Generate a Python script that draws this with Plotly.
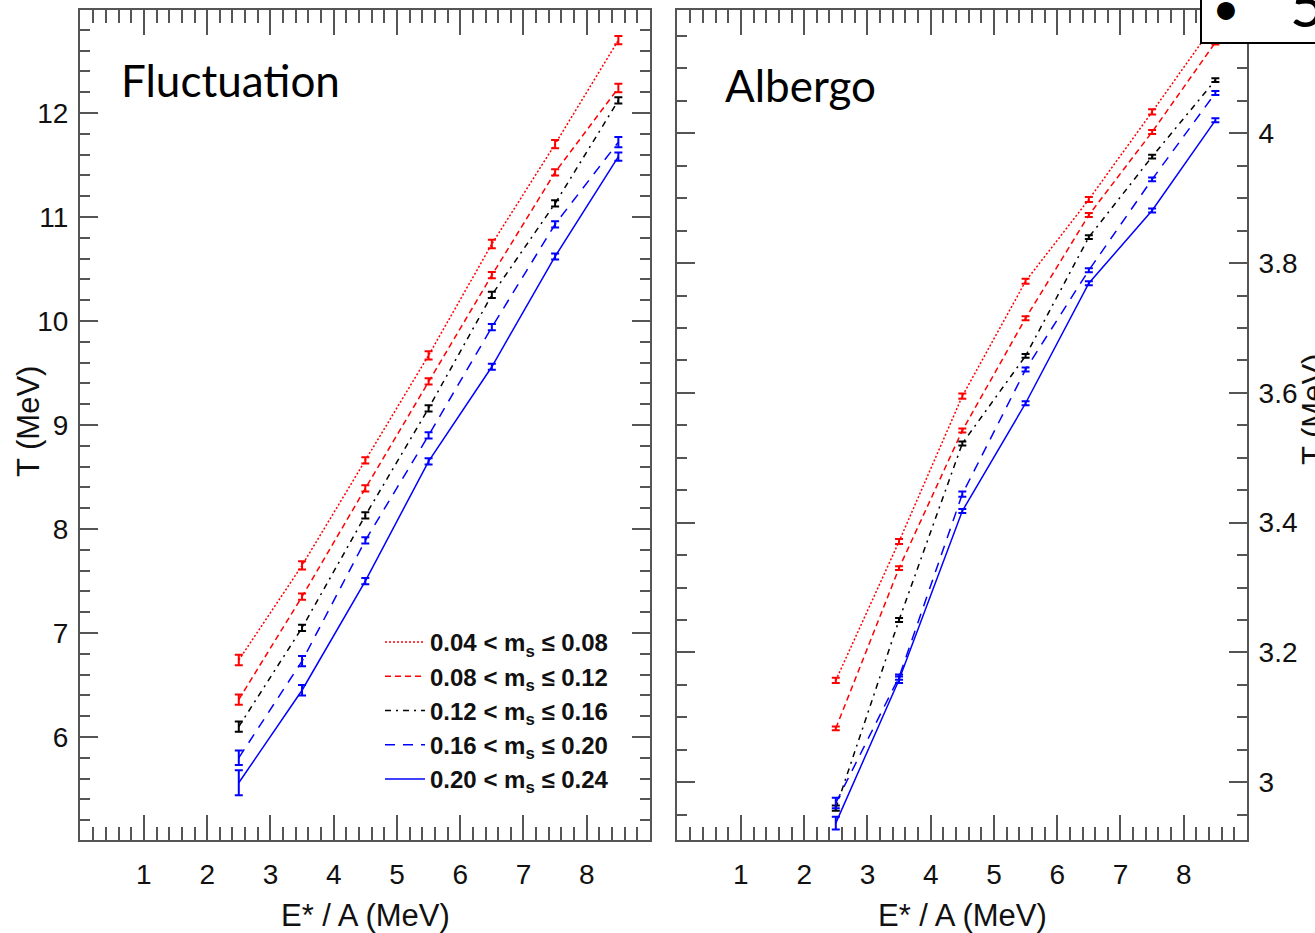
import plotly.graph_objects as go

W, H = 1315, 933

# ---------------- data ----------------
energy = [2.5, 3.5, 4.5, 5.5, 6.5, 7.5, 8.5]

series_names = [
    "<b>0.04 &lt; m<sub>s</sub> ≤ 0.08</b>",
    "<b>0.08 &lt; m<sub>s</sub> ≤ 0.12</b>",
    "<b>0.12 &lt; m<sub>s</sub> ≤ 0.16</b>",
    "<b>0.16 &lt; m<sub>s</sub> ≤ 0.20</b>",
    "<b>0.20 &lt; m<sub>s</sub> ≤ 0.24</b>",
]

# Fluctuation thermometer (left panel)
fluct_T = [
    [6.74, 7.65, 8.66, 9.67, 10.74, 11.70, 12.70],
    [6.36, 7.35, 8.39, 9.42, 10.44, 11.43, 12.24],
    [6.10, 7.05, 8.13, 9.16, 10.25, 11.13, 12.12],
    [5.80, 6.73, 7.89, 8.90, 9.94, 10.93, 11.72],
    [5.56, 6.45, 7.50, 8.65, 9.56, 10.62, 11.58],
]
fluct_err = [
    [0.05, 0.04, 0.03, 0.04, 0.04, 0.04, 0.04],
    [0.05, 0.03, 0.03, 0.03, 0.03, 0.03, 0.04],
    [0.05, 0.03, 0.03, 0.03, 0.03, 0.03, 0.03],
    [0.07, 0.05, 0.03, 0.03, 0.03, 0.03, 0.05],
    [0.12, 0.05, 0.03, 0.03, 0.03, 0.03, 0.04],
]

# Albergo thermometer (right panel)
alb_T = [
    [3.157, 3.371, 3.595, 3.772, 3.898, 4.033, 4.170],
    [3.083, 3.330, 3.542, 3.715, 3.874, 4.002, 4.140],
    [2.960, 3.250, 3.522, 3.657, 3.840, 3.964, 4.082],
    [2.968, 3.162, 3.444, 3.636, 3.789, 3.929, 4.062],
    [2.937, 3.158, 3.418, 3.584, 3.769, 3.881, 4.020],
]
alb_err = [
    [0.004, 0.004, 0.004, 0.004, 0.004, 0.004, 0.004],
    [0.003, 0.003, 0.003, 0.003, 0.003, 0.003, 0.003],
    [0.004, 0.003, 0.003, 0.003, 0.003, 0.003, 0.003],
    [0.008, 0.004, 0.004, 0.003, 0.003, 0.003, 0.003],
    [0.010, 0.005, 0.003, 0.003, 0.003, 0.003, 0.003],
]

colors = ["#ff0000", "#ff0000", "#000000", "#0000ff", "#0000ff"]
dashes = ["2px,2px", "6px,4px", "6px,5px,2px,5px", "10px,8px", "solid"]

x_ticks = [1, 2, 3, 4, 5, 6, 7, 8]
left_y_ticks = [6, 7, 8, 9, 10, 11, 12]
right_y_ticks = [3.0, 3.2, 3.4, 3.6, 3.8, 4.0]
right_y_labels = ["3", "3.2", "3.4", "3.6", "3.8", "4"]

# ---------------- figure ----------------
fig = go.Figure()

for i in range(5):
    fig.add_trace(go.Scatter(
        x=energy, y=fluct_T[i], mode="lines", name=series_names[i],
        line=dict(color=colors[i], width=1.5, dash=dashes[i]),
        error_y=dict(type="data", array=fluct_err[i], color=colors[i],
                     thickness=2, width=4),
        xaxis="x", yaxis="y", showlegend=True,
    ))
for i in range(5):
    fig.add_trace(go.Scatter(
        x=energy, y=alb_T[i], mode="lines", name=series_names[i],
        line=dict(color=colors[i], width=1.5, dash=dashes[i]),
        error_y=dict(type="data", array=alb_err[i], color=colors[i],
                     thickness=2, width=4),
        xaxis="x2", yaxis="y2", showlegend=False,
    ))

AX = "#555555"
tickfont = dict(family="Liberation Sans, Arial, sans-serif", size=28, color="#111111")

def xaxis_cfg(domain, anchor):
    return dict(
        domain=domain, anchor=anchor, range=[-0.01, 9.0],
        tickmode="array", tickvals=x_ticks, ticktext=[str(v) for v in x_ticks],
        ticks="inside", ticklen=25, tickwidth=2, tickcolor=AX,
        showline=True, linecolor=AX, linewidth=2, mirror="allticks",
        showgrid=False, zeroline=False, tickfont=tickfont,
        ticklabelstandoff=8,
        minor=dict(ticks="inside", ticklen=13, tickwidth=1.5, tickcolor=AX,
                   dtick=0.2, tick0=0, showgrid=False),
    )

ydom = [1 - 840 / H, 1 - 10 / H]
layout = dict(
    width=W, height=H,
    margin=dict(l=0, r=0, t=0, b=0),
    paper_bgcolor="white", plot_bgcolor="white",
    xaxis=xaxis_cfg([80 / W, 650 / W], "y"),
    xaxis2=xaxis_cfg([677 / W, 1247 / W], "y2"),
    yaxis=dict(
        domain=ydom, anchor="x", range=[5.01, 12.99],
        tickmode="array", tickvals=left_y_ticks,
        ticktext=[str(v) for v in left_y_ticks],
        ticks="inside", ticklen=18, tickwidth=2, tickcolor=AX,
        showline=True, linecolor=AX, linewidth=2, mirror="allticks",
        showgrid=False, zeroline=False, tickfont=tickfont,
        ticklabelstandoff=4,
        minor=dict(ticks="inside", ticklen=10, tickwidth=1.5, tickcolor=AX,
                   dtick=0.2, tick0=0, showgrid=False),
    ),
    yaxis2=dict(
        domain=ydom, anchor="x2", side="right", range=[2.911, 4.19],
        tickmode="array", tickvals=right_y_ticks, ticktext=right_y_labels,
        ticks="inside", ticklen=18, tickwidth=2, tickcolor=AX,
        showline=True, linecolor=AX, linewidth=2, mirror="allticks",
        showgrid=False, zeroline=False, tickfont=tickfont,
        ticklabelstandoff=4,
        minor=dict(ticks="inside", ticklen=10, tickwidth=1.5, tickcolor=AX,
                   dtick=0.05, tick0=0, showgrid=False),
    ),
    legend=dict(
        x=380 / W, y=1 - 620 / H, xanchor="left", yanchor="top",
        bgcolor="rgba(0,0,0,0)", borderwidth=0,
        font=dict(family="Liberation Sans, Arial, sans-serif", size=24, color="#111111"),
        tracegroupgap=0, itemwidth=40,
    ),
    showlegend=True,
)
fig.update_layout(**layout)

title_font = dict(family="Liberation Sans, Arial, sans-serif", size=31, color="#111111")
annots = [
    dict(text="Fluctuation", x=119 / W, y=1 - 80 / H, xanchor="left", yanchor="middle",
         font=dict(family="Lato, Open Sans, sans-serif", size=44, color="black")),
    dict(text="Albergo", x=723 / W, y=1 - 85 / H, xanchor="left", yanchor="middle",
         font=dict(family="Lato, Open Sans, sans-serif", size=44, color="black")),
    dict(text="E* / A (MeV)", x=365 / W, y=1 - 915 / H, xanchor="center", yanchor="middle",
         font=title_font),
    dict(text="E* / A (MeV)", x=962 / W, y=1 - 915 / H, xanchor="center", yanchor="middle",
         font=title_font),
    dict(text="T (MeV)", x=28 / W, y=1 - 422 / H, xanchor="center", yanchor="middle",
         textangle=-90, font=title_font),
    dict(text="T (MeV)", x=1313 / W, y=1 - 410 / H, xanchor="center", yanchor="middle",
         textangle=-90, font=title_font),
    dict(text="•", x=1226 / W, y=1 - 6 / H, xanchor="center", yanchor="middle",
         font=dict(family="Lato, sans-serif", size=48, color="black")),
    dict(text="5", x=1288 / W, y=1 - 4 / H, xanchor="left", yanchor="middle",
         font=dict(family="Lato, sans-serif", size=60, color="black")),
]
for a in annots:
    a.update(xref="paper", yref="paper", showarrow=False)
fig.update_layout(annotations=annots)

fig.add_shape(type="rect", xref="paper", yref="paper",
              x0=1201 / W, x1=1.05, y0=1 - 43 / H, y1=1.05,
              line=dict(color="black", width=2), fillcolor="white", layer="above")

fig.write_html("out.html")
